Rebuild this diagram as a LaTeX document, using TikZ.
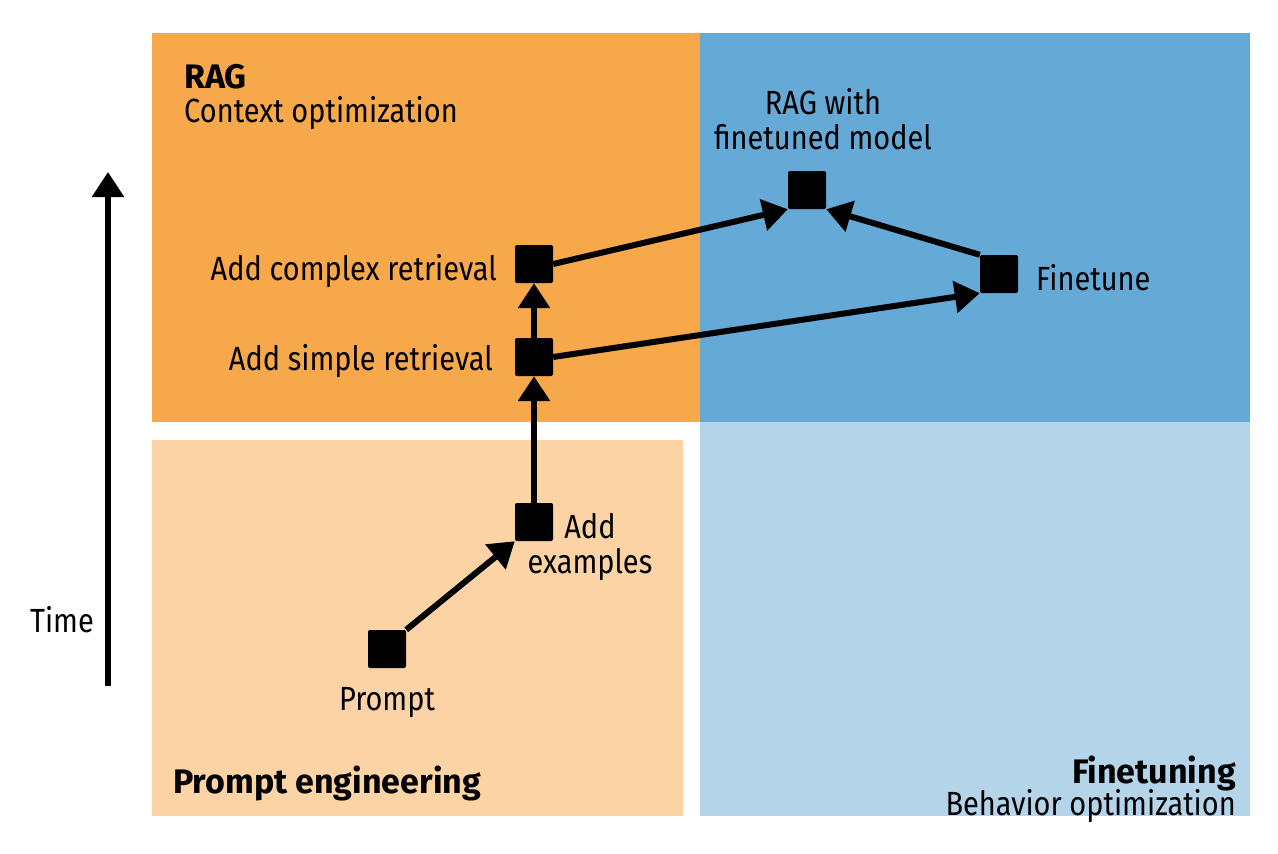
\documentclass[tikz,border=0pt]{standalone}
\usepackage{fontspec}
\setmainfont{Fira Sans}[FakeStretch=0.865,BoldFeatures={FakeStretch=1.0}]
\usetikzlibrary{arrows.meta}
\definecolor{ragor}{RGB}{247,168,74}
\definecolor{peor}{RGB}{251,211,165}
\definecolor{ftblue}{RGB}{101,169,215}
\definecolor{ltblue}{RGB}{180,212,234}
\tikzset{
  sq/.style={fill=black, minimum size=38pt, inner sep=0pt, rounded corners=2pt},
  lbl/.style={font=\fontsize{33.5}{35}\selectfont, inner sep=0pt, text=black},
  hdr/.style={font=\fontsize{34}{37}\selectfont\bfseries, inner sep=0pt, text=black},
  conn/.style={line width=6pt, -{Triangle[length=25pt,width=31pt]}},
}
\begin{document}
\begin{tikzpicture}[x=1pt,y=-1pt]
\useasboundingbox (0,0) rectangle (1278,854);
\fill[white] (0,0) rectangle (1278,854);
% quadrants
\fill[ragor] (152,33) rectangle (700,422);
\fill[ftblue] (700,33) rectangle (1250,422);
\fill[peor] (152,440) rectangle (683,816);
\fill[ltblue] (700,422) rectangle (1250,816);
% headings
\node[hdr, anchor=base west] (raghd) at (184,88) {RAG};
\node[lbl, anchor=base west] (ragsub) at (184,122) {Context optimization};
\node[hdr, anchor=base west] (pehd) at (173,793) {Prompt engineering};
\node[hdr, anchor=base east] (fthd) at (1236,783) {Finetuning};
\node[lbl, anchor=base east] (ftsub) at (1236,815) {Behavior optimization};
% nodes
\node[sq] (pr) at (387,649) {};
\node[sq] (ex) at (534,522) {};
\node[sq] (sr) at (534,357) {};
\node[sq] (cr) at (534,264) {};
\node[sq] (rft) at (807,190) {};
\node[sq] (ft) at (999,274) {};
% labels
\node[lbl, anchor=base] (prl) at (387,710) {Prompt};
\node[lbl, anchor=base, align=center] (exl) at (590,573) {Add\\examples};
\node[lbl, anchor=base east] (srl) at (493,370) {Add simple retrieval};
\node[lbl, anchor=base east] (crl) at (497,280) {Add complex retrieval};
\node[lbl, anchor=base, align=center] (rftl) at (823,149) {RAG with\\finetuned model};
\node[lbl, anchor=base west] (ftl) at (1036,290) {Finetune};
% connectors
\draw[conn] (pr.north east) -- (ex.south west);
\draw[conn] (ex.north) -- (sr.south);
\draw[conn] (sr.north) -- (cr.south);
\draw[conn] (cr.east) -- (rft.south west);
\draw[conn] (sr.east) -- (ft.south west);
\draw[conn] (ft.north west) -- (rft.south east);
% time axis
\coordinate (tb) at (108,686);
\coordinate (tt) at (108,172);
\draw[conn] (tb) -- (tt);
\node[lbl, anchor=base east] (time) at (94,632) {Time};
\end{tikzpicture}
\end{document}
